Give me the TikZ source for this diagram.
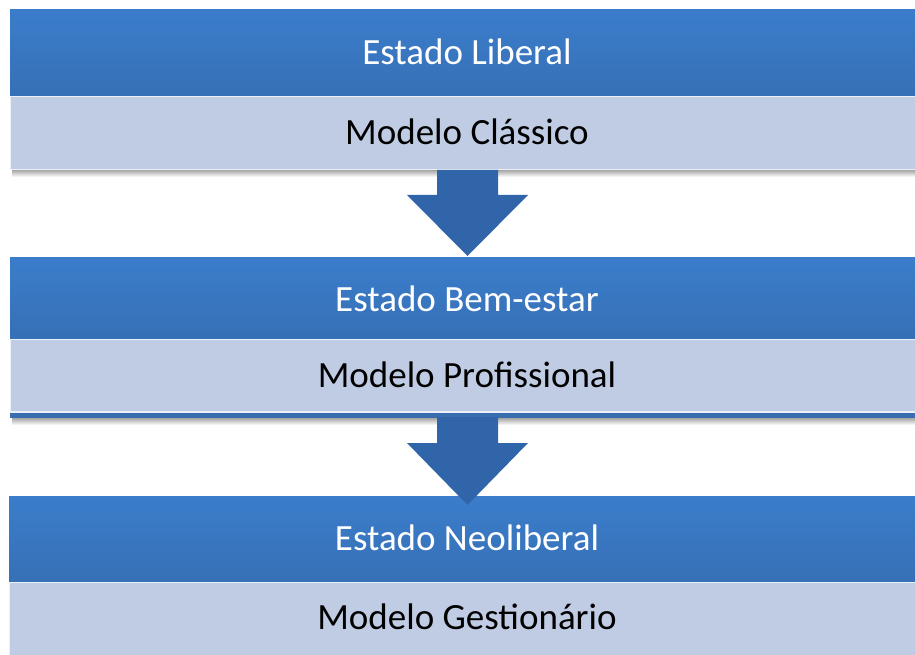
\documentclass[tikz,border=0pt]{standalone}
\usepackage{fontspec}
\setmainfont{Carlito}
\definecolor{hdtop}{HTML}{3B7DCB}
\definecolor{hdbot}{HTML}{3670B6}
\definecolor{lite}{HTML}{C0CCE3}
\definecolor{arrowc}{HTML}{3066A9}
\definecolor{edgeb}{HTML}{3A6DB0}
\begin{document}
\begin{tikzpicture}[x=1pt,y=-1pt,
  hdr/.style={top color=hdtop,middle color=hdtop,bottom color=hdbot,draw=none},
  lbox/.style={fill=lite,draw=white!70!lite,line width=1.2pt},
  htext/.style={text=white,font=\fontsize{37}{37}\selectfont},
  btext/.style={text=black,font=\fontsize{37}{37}\selectfont},
  shad/.style={top color=black!35,bottom color=white,draw=none},
  arr/.style={fill=arrowc,draw=none}]
\useasboundingbox (0,0) rectangle (915,655);
\fill[white] (0,0) rectangle (915,655);
% block 1
\shade[shad] (12,170) rectangle (930,177);
\shade[hdr] (10,10) rectangle (930,96);
\filldraw[lbox] (10.6,96.6) rectangle (930,169.4);
\node[htext] (h1) at (467,52) {Estado Liberal};
\node[btext] (b1) at (467,132) {Modelo Clássico};
% block 2
\shade[shad] (12,418) rectangle (930,425);
\shade[hdr] (10,257) rectangle (930,339);
\fill[edgeb] (10,412) rectangle (930,418);
\filldraw[lbox] (10.6,339.6) rectangle (930,412);
\node[htext] (h2) at (467,299) {Estado Bem-estar};
\node[btext] (b2) at (467,375) {Modelo Profissional};
% block 3
\shade[hdr] (9,496) rectangle (930,582);
\filldraw[lbox] (9.6,582.6) rectangle (930,660);
\node[htext] (h3) at (467,538) {Estado Neoliberal};
\node[btext] (b3) at (467,617) {Modelo Gestionário};
% arrows
\fill[arr] (437,170) -- (498,170) -- (498,195) -- (528,195) -- (467.5,256) -- (407,195) -- (437,195) -- cycle;
\fill[arr] (437,417) -- (498,417) -- (498,443) -- (528,443) -- (467.5,505) -- (407,443) -- (437,443) -- cycle;
\end{tikzpicture}
\end{document}
